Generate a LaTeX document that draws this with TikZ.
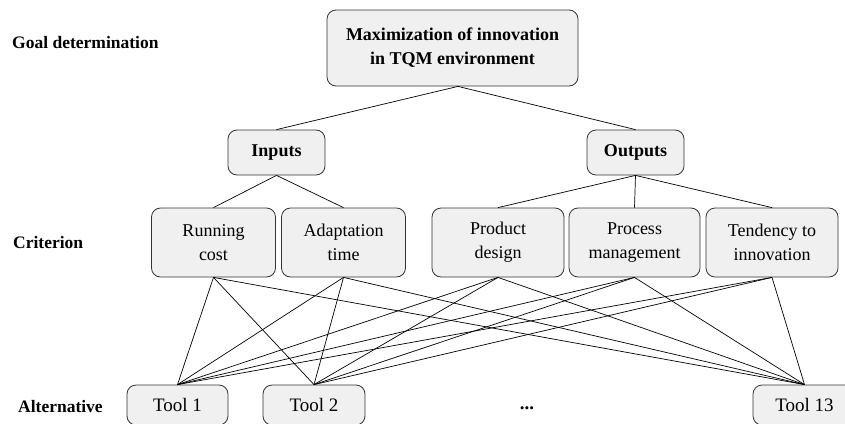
\documentclass[tikz,border=0pt]{standalone}
\usepackage{fontspec}
\setmainfont{Liberation Serif}
\usepackage{tikz}

\tikzset{
    box/.style={draw=black!80, fill=black!6, rounded corners=9pt, line width=0.8pt,
        inner sep=0pt, align=center, font=\fontsize{18}{24}\selectfont},
    crit/.style={box, minimum width=124pt, minimum height=69pt},
    tool/.style={box, minimum width=102pt, minimum height=40pt, font=\fontsize{19}{24}\selectfont},
    level/.style={anchor=west, inner sep=0pt, font=\fontsize{17.5}{22}\selectfont\bfseries},
    link/.style={line width=0.7pt}
}

\begin{document}
\begin{tikzpicture}[x=1pt, y=-1pt]
        \clip (0, 0) rectangle (845, 423);

        \node[level] (goallvl) at (12, 43) {Goal determination};
        \node[level] (critlvl) at (13, 243) {Criterion};
        \node[level] (altlvl) at (18, 407) {Alternative};

        \node[box, minimum width=251pt, minimum height=76pt, font=\fontsize{18}{24}\selectfont\bfseries] (goal) at (452.5, 48) {Maximization of innovation\\in TQM environment};

        \node[box, minimum width=97pt, minimum height=45pt, font=\fontsize{18}{24}\selectfont\bfseries] (in) at (276.5, 152.5) {Inputs};
        \node[box, minimum width=97pt, minimum height=45pt, font=\fontsize{18}{24}\selectfont\bfseries] (out) at (635.5, 152.5) {Outputs};

        \node[crit] (rc) at (213.5, 242.5) {Running\\cost};
        \node[crit] (at) at (343.5, 242.5) {Adaptation\\time};
        \node[crit, minimum width=132pt] (pd) at (498, 242.5) {Product\\design};
        \node[crit, minimum width=131pt] (pm) at (634.5, 242.5) {Process\\management};
        \node[crit, minimum width=132pt] (ti) at (772, 242.5) {Tendency to\\innovation};

        \node[tool, minimum width=101pt] (t1) at (177.5, 405) {Tool 1};
        \node[tool] (t2) at (314, 405) {Tool 2};
        \node[tool, minimum width=103pt] (t13) at (804.5, 405) {Tool 13};
        \node[inner sep=0pt, font=\fontsize{19}{24}\selectfont\bfseries] (dots) at (527, 408) {...};

        \draw[link] ([xshift=5.5pt]goal.south) -- (in.north);
        \draw[link] ([xshift=5.5pt]goal.south) -- (out.north);
        \draw[link] (in.south) -- (rc.north);
        \draw[link] (in.south) -- (at.north);
        \draw[link] (out.south) -- (pd.north);
        \draw[link] (out.south) -- (pm.north);
        \draw[link] (out.south) -- (ti.north);

        \draw[link] (rc.south) -- (t1.north);
        \draw[link] (rc.south) -- (t2.north);
        \draw[link] (rc.south) -- (t13.north);
        \draw[link] (at.south) -- (t1.north);
        \draw[link] (at.south) -- (t2.north);
        \draw[link] (at.south) -- (t13.north);
        \draw[link] (pd.south) -- (t1.north);
        \draw[link] (pd.south) -- (t2.north);
        \draw[link] (pd.south) -- (t13.north);
        \draw[link] (pm.south) -- (t1.north);
        \draw[link] (pm.south) -- (t2.north);
        \draw[link] (pm.south) -- (t13.north);
        \draw[link] (ti.south) -- (t1.north);
        \draw[link] (ti.south) -- (t2.north);
        \draw[link] (ti.south) -- (t13.north);
    \end{tikzpicture}
\end{document}
